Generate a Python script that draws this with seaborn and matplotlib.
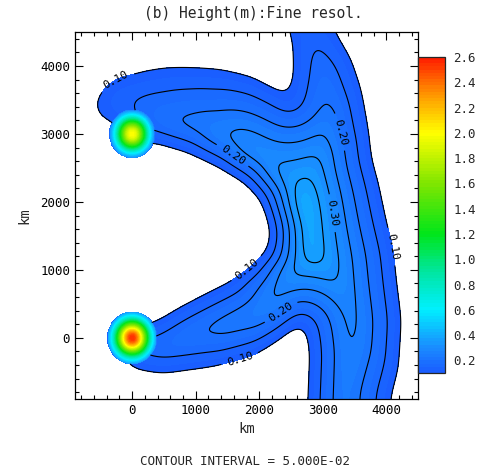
import numpy as np
import matplotlib
matplotlib.use("Agg")
import matplotlib.pyplot as plt
from matplotlib.path import Path
from matplotlib.ticker import MultipleLocator
from matplotlib.colors import LinearSegmentedColormap
import seaborn as sns

# outline of the 0.10 m region (km), clockwise
edge_x = [-200, 0, 472, 1260, 1890, 2315, 2520, 2677,
          2740, 2787, 2756, 2740,
          4150,
          4080, 4205, 4252, 4173, 4126, 4000, 3890, 3780, 3732, 3622, 3465, 3213, 2800,
          2400,
          2441, 2504, 2520, 2472,
          2315, 1890, 1370, 898, 535, 220, -315, -520, -630, -600, -520, -300,
          -100,
          315, 898, 1370, 1795, 2047, 2157, 2205, 2157, 1890, 1575, 1165, 740, 378,
          -200]
edge_y = [-250, -470, -544, -441, -280, -30, 147, 220,
          130, -220, -940, -1700,
          -1700,
          -900, -470, 265, 853, 1294, 1780, 2280, 2647, 3088, 3676, 4118, 4515, 5200,
          5200,
          4500, 4382, 3897, 3544,
          3647, 3868, 3985, 4015, 4015, 3970, 3838, 3647, 3456, 3330, 3205, 3150,
          2800,
          2880, 2720, 2515, 2279, 2029, 1735, 1544, 1294, 1044, 853, 662, 456, 250,
          100]
# how fast the height grows away from each piece of the outline (m per km)
edge_rise = [0.00021, 0.00021, 0.00021, 0.00024, 0.0003, 0.00035, 0.00035, 0.0003,
             0.00025, 0.00025, 0.00025, 0.00025,
             0.0002,
             0.0002, 0.00022, 0.00022, 0.00022, 0.00022, 0.00022, 0.00022, 0.00022,
             0.0002, 0.00018, 0.00018, 0.00018, 0.0003,
             0.00018,
             0.00018, 0.00018, 0.00018, 0.00018,
             0.00018, 0.00017, 0.00015, 0.00014, 0.00013, 0.00013, 0.00013, 0.00013,
             0.00013, 0.00013, 0.00013, 0.00013,
             0.0003,
             0.0003, 0.00035, 0.0004, 0.00045, 0.0005, 0.0005, 0.0005, 0.00045,
             0.00035, 0.00024, 0.00024, 0.00024, 0.00024,
             0.00021]

# broad relative bumps on top of that (x, y, gain, spread x, spread y)
bump_x = [2900, 2400, 2900]
bump_y = [2000, 3000, 4650]
bump_gain = [0.15, 0.2, -0.25]
bump_sx = [400, 600, 400]
bump_sy = [600, 400, 350]

# the two mountains
peak_x = [0, 0]
peak_y = [0, 3000]
peak_h = [2.55, 2.0]
peak_r = [380, 350]
peak_s = [190, 180]

plain_levels = [0.15, 0.25, 0.35]
label_levels = [0.10, 0.20, 0.30]
label_x = [-250, 1560, 3339, 3291, 4063, 1732, 2283, 1685]
label_y = [3790, 2660, 3044, 1853, 1338, 1103, 456, -280]
cbar_ticks = [0.2, 0.4, 0.6, 0.8, 1.0, 1.2, 1.4, 1.6, 1.8, 2.0, 2.2, 2.4, 2.6]

# colours of the scale, by value
cmap_vals = [0.1, 0.3, 0.6, 0.9, 1.2, 1.6, 2.0, 2.3, 2.6]
cmap_cols = ['#1a5cff', '#1a8cff', '#00f0ff', '#00e6a0', '#00e619',
             '#80e600', '#ffff00', '#ff9900', '#ff1a00']


def smooth(a, cells):
    k = np.exp(-0.5 * (np.arange(-3 * cells, 3 * cells + 1) / cells) ** 2)
    k /= k.sum()
    n = len(k) // 2
    a = np.pad(a, n, mode='edge')
    a = np.apply_along_axis(lambda r: np.convolve(r, k, mode='valid'), 1, a)
    a = np.apply_along_axis(lambda c: np.convolve(c, k, mode='valid'), 0, a)
    return a


xs = np.arange(-1000, 4601, 15.0)
ys = np.arange(-1000, 4601, 15.0)
X, Y = np.meshgrid(xs, ys)

ex = np.array(edge_x, float)
ey = np.array(edge_y, float)
dist = np.full(X.shape, np.inf)
grow = np.full(X.shape, np.inf)
for i in range(len(ex)):
    x0, y0 = ex[i], ey[i]
    x1, y1 = ex[(i + 1) % len(ex)], ey[(i + 1) % len(ex)]
    dx, dy = x1 - x0, y1 - y0
    t = np.clip(((X - x0) * dx + (Y - y0) * dy) / (dx * dx + dy * dy), 0, 1)
    d = np.hypot(X - x0 - t * dx, Y - y0 - t * dy)
    dist = np.minimum(dist, d)
    grow = np.minimum(grow, edge_rise[i] * d)
inside = Path(np.column_stack([ex, ey])).contains_points(
    np.column_stack([X.ravel(), Y.ravel()])).reshape(X.shape)
excess = smooth(np.where(inside, grow, -0.0003 * dist), 8)

factor = np.ones(X.shape)
for bx, by, bg, sx, sy in zip(bump_x, bump_y, bump_gain, bump_sx, bump_sy):
    factor += bg * np.exp(-0.5 * (((X - bx) / sx) ** 2 + ((Y - by) / sy) ** 2))
h = 0.1 + excess * np.where(excess > 0, factor, 1.0)

total = h.copy()
in_disk = np.zeros(X.shape, bool)
for cx, cy, ch, cr, cs in zip(peak_x, peak_y, peak_h, peak_r, peak_s):
    r = np.hypot(X - cx, Y - cy)
    disk = r < cr
    g = ch * np.exp(-0.5 * (r / cs) ** 2)
    total = np.where(disk, np.maximum(total, g), total)
    in_disk |= disk

sns.set_theme(style="ticks")
plt.rcParams['font.family'] = ['DejaVu Sans Mono', 'DejaVu Sans']

cmap = LinearSegmentedColormap.from_list(
    'ferret', [((v - 0.1) / 2.5, c) for v, c in zip(cmap_vals, cmap_cols)])

fig = plt.figure(figsize=(4.8, 4.75), dpi=100)
ax = fig.add_axes([75 / 480, 76 / 475, 343 / 480, 367 / 475])
cf = ax.contourf(X, Y, total, levels=np.arange(0.1, 2.6001, 0.025), cmap=cmap)
hm = np.ma.masked_where(in_disk, h)
ax.contour(X, Y, hm, levels=plain_levels, colors='black', linewidths=0.8)
cl = ax.contour(X, Y, hm, levels=label_levels, colors='black', linewidths=0.8)
ax.clabel(cl, fmt='%.2f', fontsize=8, inline=True,
          manual=list(zip(label_x, label_y)))

ax.set_xlim(-900, 4500)
ax.set_ylim(-900, 4500)
ax.set_xticks([0, 1000, 2000, 3000, 4000])
ax.set_yticks([0, 1000, 2000, 3000, 4000])
ax.xaxis.set_minor_locator(MultipleLocator(200))
ax.yaxis.set_minor_locator(MultipleLocator(200))
ax.tick_params(which='both', direction='in', top=True, right=True, width=0.8,
               labelsize=9, colors='black')
ax.tick_params(which='major', length=6)
ax.tick_params(which='minor', length=3)
for s in ax.spines.values():
    s.set_linewidth(0.9)
    s.set_color('black')
ax.set_xlabel('km', fontsize=10, labelpad=4)
ax.set_ylabel('km', fontsize=10, labelpad=6)

cax = fig.add_axes([418 / 480, 102 / 475, 27 / 480, 316 / 475])
cb = fig.colorbar(cf, cax=cax, ticks=cbar_ticks)
cb.ax.tick_params(direction='in', length=4, width=0.8, labelsize=9, pad=6)
cb.ax.set_yticklabels(['%.1f' % t for t in cbar_ticks])
cb.outline.set_linewidth(0.9)

fig.text(0.527, 0.972, '(b) Height(m):Fine resol.', ha='center', va='center', fontsize=10.5)
fig.text(0.51, 0.028, 'CONTOUR INTERVAL = 5.000E-02', ha='center', va='center', fontsize=9)

fig.savefig('out.png', dpi=100)
